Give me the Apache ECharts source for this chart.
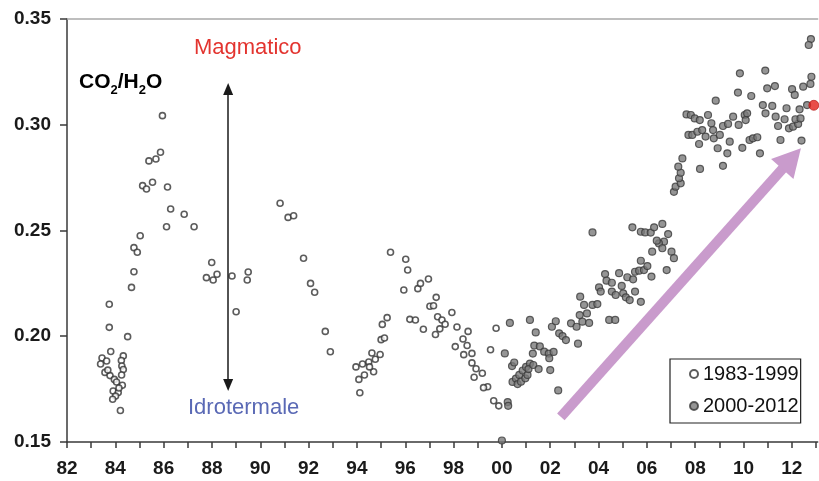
<!DOCTYPE html>
<html><head><meta charset="utf-8">
<script src="https://cdn.jsdelivr.net/npm/echarts@6/dist/echarts.min.js"></script>
<style>html,body{margin:0;padding:0;background:#fff}#c{width:819px;height:481px}</style>
</head><body><div id="c"></div>
<script>
// ---- data ----
const seriesNames = ['1983-1999', '2000-2012'];
const openYears = [1983.75,1983.75,1984.51,1983.81,1983.45,1983.64,1983.39,1984.33,1984.25,1984.27,1983.57,1983.78,1984.33,1984.26,1983.96,1984.05,1984.29,1983.91,1984.12,1984.01,1983.89,1984.21,1983.69,1984.15,
1984.67,1984.77,1984.77,1984.91,1985.03,1985.13,1985.29,1985.54,1985.39,1985.68,1985.87,1985.95,1986.16,1986.29,1986.85,1986.12,1987.26,
1987.99,1987.77,1988.05,1988.21,1988.83,1989.50,1989.46,1989.00,
1990.82,1991.15,1991.38,1991.79,1992.08,1992.25,1992.69,1992.90,
1993.96,1994.23,1994.08,1994.12,1994.31,1994.49,1994.62,1994.69,1994.76,1994.96,1995.00,1995.14,1995.05,1995.25,1994.52,
1995.39,1996.02,1996.10,1995.94,1996.52,1996.63,1996.96,1996.19,1996.42,1996.75,1997.02,1997.28,1997.17,1997.34,1997.52,1997.65,1997.43,1997.25,
1997.93,1998.14,1998.60,1998.39,1998.07,1998.56,1998.42,1998.76,1998.76,1998.93,1999.19,1998.85,1999.41,1999.24,1999.76,1999.53,1999.66,1999.87];
const openValues = [0.2151,0.2042,0.1998,0.1928,0.1897,0.1883,0.1869,0.1907,0.1885,0.1859,0.1829,0.1814,0.1843,0.1817,0.1796,0.1784,0.1768,0.1741,0.1734,0.1717,0.1702,0.1649,0.1840,0.1755,
0.2231,0.2305,0.2419,0.2397,0.2475,0.2712,0.2696,0.2728,0.2829,0.2838,0.2870,0.3043,0.2706,0.2602,0.2577,0.2518,0.2518,
0.2349,0.2277,0.2266,0.2293,0.2285,0.2304,0.2266,0.2116,
0.2629,0.2562,0.2570,0.2369,0.2250,0.2208,0.2023,0.1927,
0.1855,0.1869,0.1796,0.1733,0.1817,0.1878,0.1921,0.1832,0.1891,0.1914,0.1984,0.1992,0.2056,0.2088,0.1855,
0.2397,0.2364,0.2313,0.2219,0.2225,0.2250,0.2271,0.2080,0.2077,0.2033,0.2142,0.2184,0.2144,0.2092,0.2077,0.2057,0.2035,0.2008,
0.2112,0.2044,0.2023,0.1987,0.1951,0.1956,0.1913,0.1919,0.1874,0.1846,0.1825,0.1806,0.1761,0.1757,0.2038,0.1936,0.1695,0.1671];
const filledYears = [2000.00,2000.24,2000.26,2000.12,2000.33,2000.42,2000.51,2000.44,2000.58,2000.65,2000.72,2000.79,2000.86,2000.97,2001.00,2001.06,2001.16,2001.10,2001.30,2001.16,
2001.40,2001.34,2001.57,2001.28,2001.75,2001.94,2002.14,2001.96,2002.00,2001.52,2002.33,2002.07,2002.23,2002.37,2002.51,2002.65,2002.86,2003.09,2003.15,2003.33,
2003.22,2003.40,2003.52,2003.61,2003.75,2003.95,2003.24,2003.75,2004.02,2004.09,2004.27,2004.33,2004.55,2004.55,2004.71,2004.85,2004.96,2005.02,2005.13,2005.29,
2005.19,2005.43,2005.51,2005.68,2005.88,2005.75,2006.02,2005.51,2005.75,2006.19,2004.44,2004.69,2005.40,2005.75,2005.93,2006.16,2006.30,2006.64,2006.88,2006.71,
2006.50,2006.41,2006.64,2006.22,2007.02,2007.12,2006.82,
2007.12,2007.19,2007.40,2007.33,2007.40,2007.30,2007.47,2008.20,2009.15,2007.64,2007.82,2007.98,2008.19,2008.53,2008.67,2008.74,2009.15,2009.36,2009.57,2009.80,
2010.05,2010.15,2010.09,2007.72,2007.88,2008.09,2008.29,2008.43,2008.77,2009.02,2008.16,2008.93,2009.33,2009.43,2009.95,2010.25,2010.39,2010.57,2010.68,2011.53,
2012.40,2008.85,2009.77,2009.85,2010.32,2010.90,2010.98,2011.30,2010.80,2011.19,2011.78,2010.91,2011.33,2011.70,2011.43,2011.88,2012.05,2012.26,2012.15,2012.36,
2012.32,2012.63,2012.01,2012.12,2012.47,2012.77,2012.81,2012.79,2012.70];
const filledValues = [0.1507,0.1689,0.1671,0.1919,0.2063,0.1859,0.1876,0.1784,0.1800,0.1774,0.1817,0.1785,0.1838,0.1801,0.1855,0.1817,0.1871,0.1845,0.1864,0.2077,
0.2018,0.1956,0.1952,0.1918,0.1927,0.1918,0.1926,0.1896,0.1840,0.1845,0.1744,0.2045,0.2071,0.2014,0.2001,0.1982,0.2061,0.2045,0.1965,0.2069,
0.2100,0.2148,0.2108,0.2063,0.2148,0.2152,0.2187,0.2491,0.2231,0.2211,0.2294,0.2263,0.2253,0.2211,0.2195,0.2298,0.2238,0.2203,0.2184,0.2171,
0.2279,0.2269,0.2305,0.2310,0.2313,0.2357,0.2332,0.2211,0.2163,0.2282,0.2077,0.2077,0.2515,0.2494,0.2491,0.2490,0.2515,0.2531,0.2483,0.2447,
0.2439,0.2452,0.2416,0.2400,0.2400,0.2369,0.2313,
0.2683,0.2707,0.2723,0.2747,0.2773,0.2802,0.2841,0.2791,0.2806,0.3049,0.3046,0.3030,0.3022,0.3046,0.3007,0.2975,0.2994,0.3004,0.3038,0.2999,
0.3046,0.3054,0.3022,0.2952,0.2952,0.2967,0.2975,0.2944,0.2936,0.2952,0.2909,0.2889,0.2865,0.2920,0.2891,0.2928,0.2936,0.2941,0.2865,0.2928,
0.2925,0.3114,0.3152,0.3243,0.3136,0.3256,0.3172,0.3183,0.3093,0.3089,0.3078,0.3054,0.3038,0.3026,0.2994,0.2983,0.2991,0.3004,0.3026,0.3030,
0.3073,0.3093,0.3168,0.3141,0.3180,0.3193,0.3227,0.3405,0.3377];
const highlightYear = [2012.91];
const highlightValue = [0.3092];
const yTicks = [0.15, 0.20, 0.25, 0.30, 0.35];
const xRange = [1982, 2013.07];
// annotation anchors (data units)
const trendArrow = [[2002.44, 0.1619], [2011.99, 0.2840]];
const rangeArrow = [[1988.67, 0.1770], [1988.67, 0.3169]];

// ---- build ----
const zip = (xs, ys) => xs.map((x, i) => [x, ys[i]]);
const FONT = '"Liberation Sans", Arial, Helvetica, sans-serif';
const chart = echarts.init(document.getElementById('c'), null, {renderer: 'canvas'});
chart.setOption({
  animation: false,
  backgroundColor: '#ffffff',
  textStyle: {fontFamily: FONT},
  grid: {left: 67, top: 19, right: 0, bottom: 39, containLabel: false},
  legend: {
    data: seriesNames,
    orient: 'vertical',
    left: 670, top: 359,
    padding: [5, 2, 7, 19],
    itemWidth: 8, itemHeight: 8, itemGap: 12,
    borderColor: '#222', borderWidth: 1.2, backgroundColor: '#fff',
    textStyle: {fontFamily: FONT, fontSize: 20, color: '#111'},
    selectedMode: false
  },
  xAxis: [{
    type: 'value', min: xRange[0], max: xRange[1], interval: 1,
    axisLine: {show: true, onZero: false, lineStyle: {color: '#3a3a3a', width: 1.5}},
    axisTick: {show: true, inside: false, length: 6, lineStyle: {color: '#3a3a3a', width: 1.5}},
    splitLine: {show: false},
    axisLabel: {
      margin: 17, fontSize: 19, fontWeight: 'bold', color: '#1a1a1a', fontFamily: FONT,
      showMaxLabel: false,
      formatter: v => {
        const r = Math.round(v);
        if (Math.abs(v - r) > 1e-6 || r % 2 !== 0) return '';
        return String(r % 100).padStart(2, '0');
      }
    }
  }, {
    type: 'value', position: 'top', min: xRange[0], max: xRange[1],
    axisLine: {show: true, lineStyle: {color: '#a9a9a9', width: 1.5}},
    axisTick: {show: false}, axisLabel: {show: false}, splitLine: {show: false}
  }],
  yAxis: {
    type: 'value', min: yTicks[0], max: yTicks[yTicks.length - 1], interval: 0.05,
    axisLine: {show: true, lineStyle: {color: '#3a3a3a', width: 1.5}},
    axisTick: {show: true, length: 7, lineStyle: {color: '#3a3a3a', width: 1.5}},
    splitLine: {show: false},
    axisLabel: {margin: 16, fontSize: 19, fontWeight: 'bold', color: '#1a1a1a', fontFamily: FONT,
      formatter: v => v.toFixed(2)}
  },
  series: [
    {
      name: seriesNames[0], type: 'scatter', data: zip(openYears, openValues),
      symbol: 'circle', symbolSize: 6,
      itemStyle: {color: '#ffffff', borderColor: '#333333', borderWidth: 1.6},
      z: 3,
      markLine: {
        silent: true, animation: false,
        symbol: ['triangle', 'triangle'], symbolSize: [10, 12],
        label: {show: false},
        lineStyle: {color: '#1a1a1a', width: 1.5, type: 'solid'},
        emphasis: {disabled: true},
        data: [[{coord: rangeArrow[0]}, {coord: rangeArrow[1]}]]
      }
    },
    {
      name: seriesNames[1], type: 'scatter', data: zip(filledYears, filledValues),
      symbol: 'circle', symbolSize: 7,
      itemStyle: {color: '#7b7b7b', borderColor: '#3a3a3a', borderWidth: 1.2},
      z: 4,
      markLine: {
        silent: true, animation: false,
        symbol: ['none', 'triangle'], symbolSize: [30, 28],
        label: {show: false},
        lineStyle: {color: '#c99bcc', width: 10, type: 'solid', opacity: 1},
        itemStyle: {color: '#c99bcc'},
        emphasis: {disabled: true},
        data: [[{coord: trendArrow[0]}, {coord: trendArrow[1]}]]
      }
    },
    {
      name: 'attuale', type: 'scatter', data: zip(highlightYear, highlightValue),
      symbol: 'circle', symbolSize: 10,
      itemStyle: {color: '#e3201b', borderColor: '#b01010', borderWidth: 0.8},
      z: 5
    }
  ],
  graphic: [
    {type: 'text', left: 194, top: 37, z: 10,
      style: {text: 'Magmatico', fontSize: 22, fontFamily: FONT, fill: '#e3342f'}},
    {type: 'text', left: 188, top: 397, z: 10,
      style: {text: 'Idrotermale', fontSize: 22, fontFamily: FONT, fill: '#5a69b5'}},
    {type: 'text', left: 79, top: 72, z: 10,
      style: {
        text: '{m|CO}{s|2}{m|/H}{s|2}{m|O}',
        rich: {
          m: {fontSize: 21, fontWeight: 'bold', fontFamily: FONT, fill: '#000', lineHeight: 24, verticalAlign: 'bottom'},
          s: {fontSize: 13, fontWeight: 'bold', fontFamily: FONT, fill: '#000', lineHeight: 18, verticalAlign: 'bottom', padding: [0, 0, -4, 0]}
        }
      }}
  ]
});
</script></body></html>
